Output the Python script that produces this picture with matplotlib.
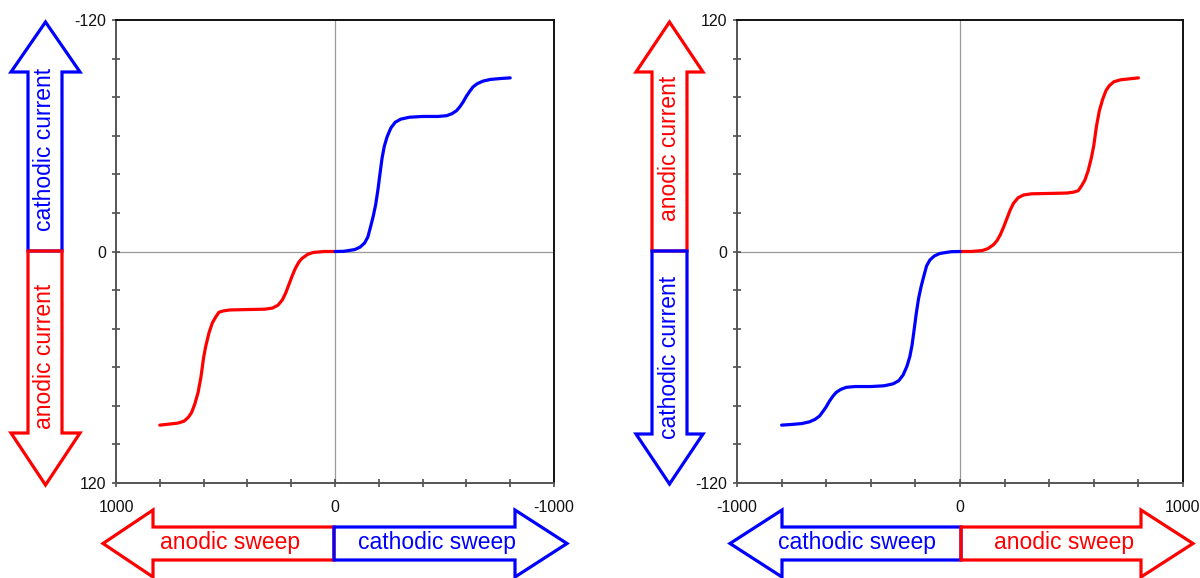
import matplotlib
matplotlib.use('Agg')
from matplotlib import pyplot as plt
from matplotlib.patches import Polygon

plt.rcParams['font.family'] = ['Liberation Sans', 'DejaVu Sans']
plt.rcParams['axes.unicode_minus'] = False

# potential (mV) and current
E_anodic = [0, 50, 100, 125, 150, 165, 180, 195, 210, 225, 240, 260, 285, 320, 400,
            480, 510, 530, 545, 560, 575, 590, 600, 612, 625, 640, 655, 670, 690,
            720, 760, 800]
i_anodic = [0, 0, 0.5, 1.5, 3.5, 5.5, 8.5, 12.5, 17, 21.5, 25, 27.8, 29.3, 29.9, 30.1,
            30.3, 30.8, 31.5, 34, 37, 42, 49, 55, 65, 73, 79, 83.5, 86, 88,
            89, 89.5, 90]

E_cathodic = [0, -40, -90, -115, -135, -150, -164, -175, -186, -196, -205, -215, -225,
              -238, -255, -275, -300, -340, -400, -470, -510, -535, -555, -570, -585,
              -600, -615, -630, -650, -675, -710, -760, -800]
i_cathodic = [0, -0.1, -1, -2.3, -4.4, -7.5, -13.5, -18.5, -24.5, -32, -40, -48.5, -54.5,
              -59.5, -64, -67, -68.6, -69.6, -70, -70, -70.4, -71.5, -73, -75, -77.5,
              -80.5, -83, -85.3, -87, -88.3, -89.2, -89.7, -90]

y_major = [-120, 0, 120]
y_minor = list(range(-120, 121, 20))
x_major = [-1000, 0, 1000]
x_minor = list(range(-1000, 1001, 200))

RED = '#ff0000'
BLUE = '#0000ff'
W, H = 1200, 578

fig = plt.figure(figsize=(12, 5.78), dpi=100)


def px(x, y):
    # pixel position (from top-left) -> figure fraction
    return (x / W, 1 - y / H)


def setup(ax, flip):
    ax.plot(E_anodic, i_anodic, color=RED, lw=2.3, solid_capstyle='round',
            solid_joinstyle='round', zorder=3)
    ax.plot(E_cathodic, i_cathodic, color=BLUE, lw=2.3, solid_capstyle='round',
            solid_joinstyle='round', zorder=3)
    ax.axhline(0, color='#999999', lw=0.9, zorder=1)
    ax.axvline(0, color='#999999', lw=0.9, zorder=1)
    ax.set_xlim(-1000, 1000)
    ax.set_ylim(-120, 120)
    if flip:
        ax.invert_xaxis()
        ax.invert_yaxis()
    ax.set_xticks(x_major)
    ax.set_xticks(x_minor, minor=True)
    ax.set_yticks(y_major)
    ax.set_yticks(y_minor, minor=True)
    ax.tick_params(which='both', direction='inout', length=6, width=1.1, color='#404040',
                   labelsize=11.5, labelcolor='#111111')
    ax.tick_params(axis='x', which='both', pad=9)
    ax.tick_params(axis='y', which='both', pad=4)
    for s in ['left', 'bottom']:
        ax.spines[s].set_color('#555555')
        ax.spines[s].set_linewidth(1.4)
    for s in ['top', 'right']:
        ax.spines[s].set_color('#111111')
        ax.spines[s].set_linewidth(1.4)


def varrow(x0, x1, hx0, hx1, y_join, y_base, y_tip, color):
    xm = (hx0 + hx1) / 2
    pts = [(x0, y_join), (x0, y_base), (hx0, y_base), (xm, y_tip),
           (hx1, y_base), (x1, y_base), (x1, y_join)]
    fig.patches.append(Polygon([px(*p) for p in pts], closed=True, fill=False,
                               ec=color, lw=2.3, transform=fig.transFigure, joinstyle='miter'))


def harrow(x_join, x_base, x_tip, y0, y1, hy0, hy1, color):
    ym = (hy0 + hy1) / 2
    pts = [(x_join, y0), (x_base, y0), (x_base, hy0), (x_tip, ym),
           (x_base, hy1), (x_base, y1), (x_join, y1)]
    fig.patches.append(Polygon([px(*p) for p in pts], closed=True, fill=False,
                               ec=color, lw=2.3, transform=fig.transFigure, joinstyle='miter'))


def label(x, y, s, color, rot=0):
    fig.text(*px(x, y), s, color=color, fontsize=16.5, rotation=rot,
             ha='center', va='center')


ax1 = fig.add_axes([116 / W, 1 - 483 / H, 438 / W, 463 / H])
setup(ax1, True)
ax2 = fig.add_axes([737 / W, 1 - 483 / H, 446 / W, 463 / H])
setup(ax2, False)

# left chart arrows
varrow(28, 62, 11, 80, 251, 72, 22, BLUE)
varrow(28, 62, 11, 80, 251, 433, 485, RED)
label(45, 149, 'cathodic current', BLUE, 90)
label(45, 356, 'anodic current', RED, 90)
harrow(334, 153, 103, 527, 560, 510, 577, RED)
harrow(334, 515, 567, 527, 560, 510, 577, BLUE)
label(230, 543, 'anodic sweep', RED)
label(437, 543, 'cathodic sweep', BLUE)

# right chart arrows
varrow(652, 687, 636, 703, 251, 72, 22, RED)
varrow(652, 687, 636, 703, 251, 434, 484, BLUE)
label(670, 148, 'anodic current', RED, 90)
label(670, 357, 'cathodic current', BLUE, 90)
harrow(961, 782, 730, 527, 560, 510, 577, BLUE)
harrow(961, 1141, 1193, 527, 560, 510, 577, RED)
label(857, 543, 'cathodic sweep', BLUE)
label(1064, 543, 'anodic sweep', RED)

plt.savefig('out.png', dpi=100)
